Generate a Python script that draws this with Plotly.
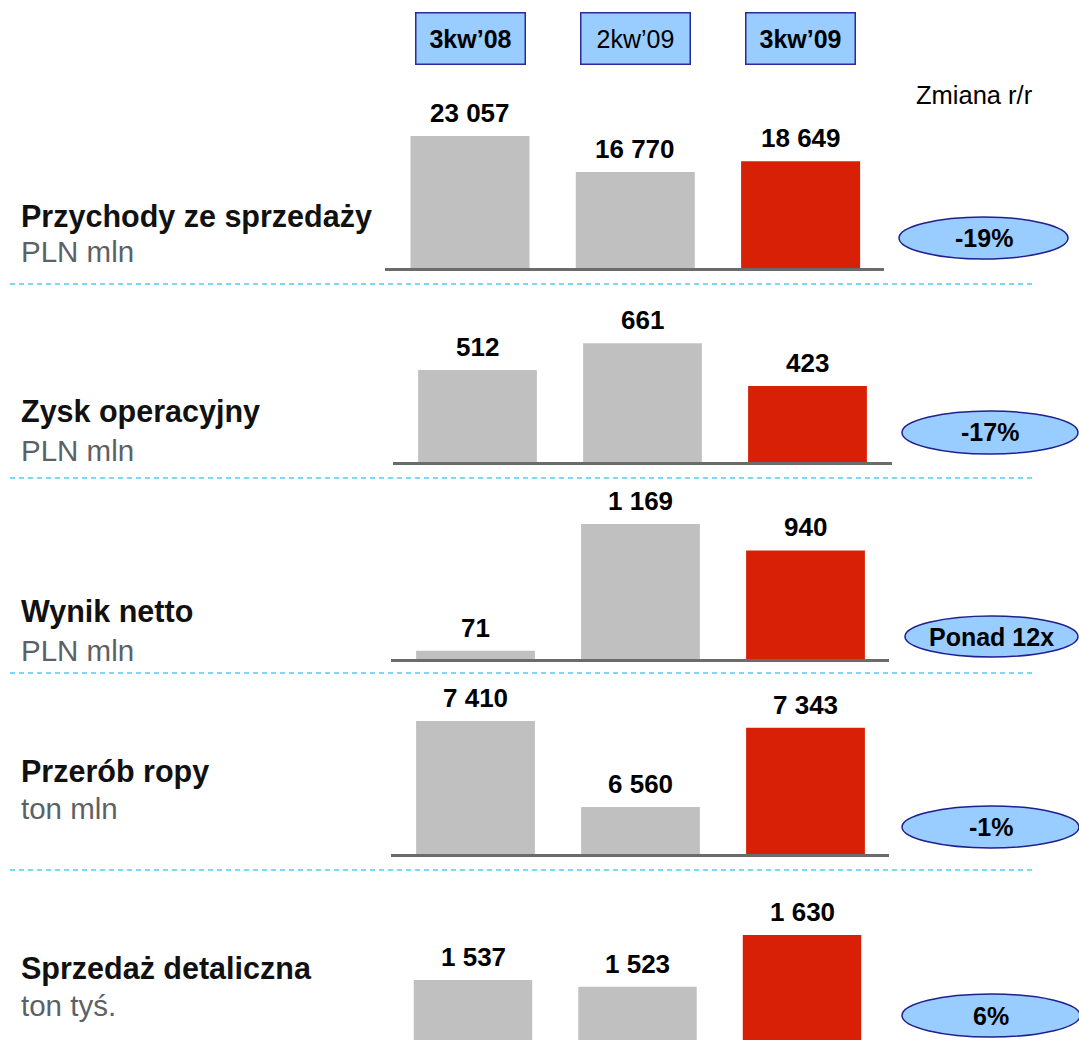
import plotly.graph_objects as go

# ---------------- data ----------------
categories = ["3kw’08", "2kw’09", "3kw’09"]
metrics = ["Przychody ze sprzedaży", "Zysk operacyjny", "Wynik netto",
           "Przerób ropy", "Sprzedaż detaliczna"]
units = ["PLN mln", "PLN mln", "PLN mln", "ton mln", "ton tyś."]
revenue = [23057, 16770, 18649]
operating_profit = [512, 661, 423]
net_result = [71, 1169, 940]
crude_throughput = [7410, 6560, 7343]
retail_sales = [1537, 1523, 1630]
yoy_change = ["-19%", "-17%", "Ponad 12x", "-1%", "6%"]
change_title = "Zmiana r/r"

series = [revenue, operating_profit, net_result, crude_throughput, retail_sales]

# ---------------- layout helpers ----------------
W, H = 1079, 1040
def fx(p):
    return p / W
def fy(p):
    return 1 - p / H

GRAY = "#c0c0c0"
RED = "#d82006"
BLUE_FILL = "#99ccff"
NAVY = "#1f1f8f"
FONT = "Liberation Sans, Arial, sans-serif"

# per panel: x line extent (px), first bar centre, spacing, baseline px, top px, axis base, units per px
panels = [
    dict(L=385, R=884, c0=470.0, sp=165.3, B=268, T=90, base=0, upp=174.7,
         ell=(899, 217, 1068, 259), title_y=216, unit_y=251, sep=284, line=True),
    dict(L=393, R=892, c0=477.5, sp=165.0, B=462, T=290, base=0, upp=5.565,
         ell=(902, 411, 1078, 454), title_y=412, unit_y=450, sep=478, line=True),
    dict(L=391, R=889, c0=475.5, sp=165.0, B=659, T=480, base=0, upp=8.66,
         ell=(905, 616, 1078, 657), title_y=611, unit_y=650, sep=673, line=True),
    dict(L=391, R=889, c0=475.5, sp=165.0, B=854, T=690, base=6096, upp=9.88,
         ell=(902, 806, 1079, 848), title_y=771, unit_y=808, sep=870, line=True),
    dict(L=388, R=886, c0=473.0, sp=164.5, B=1040, T=890, base=1413, upp=2.067,
         ell=(902, 994, 1080, 1037), title_y=968, unit_y=1005, sep=None, line=False),
]

fig = go.Figure()
annotations = []
shapes = []

bar_colors = [GRAY, GRAY, RED]

for i, (p, vals) in enumerate(zip(panels, series)):
    n = i + 1
    xa = "x" if n == 1 else f"x{n}"
    ya = "y" if n == 1 else f"y{n}"
    fig.add_trace(go.Bar(
        x=categories, y=vals, xaxis=xa, yaxis=ya,
        marker=dict(color=bar_colors, line=dict(width=0)),
        width=0.72, showlegend=False, hoverinfo="x+y",
    ))
    x0 = -(p["c0"] - p["L"]) / p["sp"]
    x1 = (p["R"] - p["c0"]) / p["sp"]
    y1 = p["base"] + (p["B"] - p["T"]) * p["upp"]
    xkey = "xaxis" if n == 1 else f"xaxis{n}"
    ykey = "yaxis" if n == 1 else f"yaxis{n}"
    fig.update_layout(**{
        xkey: dict(domain=[fx(p["L"]), fx(p["R"])], range=[x0, x1],
                   anchor=ya, type="category", showticklabels=False,
                   showgrid=False, zeroline=False, ticks="",
                   showline=p["line"], linecolor="#6b6b6b", linewidth=2.5,
                   fixedrange=True),
        ykey: dict(domain=[fy(p["B"]), fy(p["T"])], range=[p["base"], y1],
                   anchor=xa, showticklabels=False, showgrid=False,
                   zeroline=False, showline=False, ticks="", fixedrange=True),
    })
    # value labels
    for c, v in zip(categories, vals):
        annotations.append(dict(
            x=c, y=v, xref=xa, yref=ya, yanchor="bottom", yshift=6,
            text=f"{v:,}".replace(",", " "), showarrow=False,
            font=dict(family=FONT, size=26, color="black", weight="bold"),
        ))
    # left titles
    annotations.append(dict(
        x=fx(19), y=fy(p["title_y"]), xref="paper", yref="paper",
        xanchor="left", yanchor="middle", text=f"<b>{metrics[i]}</b>",
        showarrow=False, font=dict(family=FONT, size=30.5, color="#111111"),
    ))
    annotations.append(dict(
        x=fx(19), y=fy(p["unit_y"]), xref="paper", yref="paper",
        xanchor="left", yanchor="middle", text=units[i],
        showarrow=False, font=dict(family=FONT, size=29.5, color="#5c6264"),
    ))
    # ellipse with change
    ex0, ey0, ex1, ey1 = p["ell"]
    shapes.append(dict(
        type="circle", xref="paper", yref="paper",
        x0=fx(ex0), x1=fx(ex1), y0=fy(ey1), y1=fy(ey0),
        fillcolor=BLUE_FILL, line=dict(color=NAVY, width=1.5), layer="above",
    ))
    annotations.append(dict(
        x=fx((ex0 + ex1) / 2), y=fy((ey0 + ey1) / 2), xref="paper", yref="paper",
        xanchor="center", yanchor="middle", text=f"<b>{yoy_change[i]}</b>",
        showarrow=False, font=dict(family=FONT, size=25, color="black"),
    ))
    # dashed separator
    if p["sep"] is not None:
        shapes.append(dict(
            type="line", xref="paper", yref="paper",
            x0=fx(10), x1=fx(1033), y0=fy(p["sep"]), y1=fy(p["sep"]),
            line=dict(color="#4fcdf2", width=1.5, dash="5px,4px"),
        ))

# header boxes above columns
header_bold = [True, False, True]
for c, b in zip(categories, header_bold):
    annotations.append(dict(
        x=c, xref="x", y=fy(38.5), yref="paper", yanchor="middle",
        text=f"<b>{c}</b>" if b else c, showarrow=False,
        width=106, height=48, bgcolor=BLUE_FILL, bordercolor="#2a2a9a",
        borderwidth=1.5, borderpad=1,
        font=dict(family=FONT, size=25, color="black"),
    ))

annotations.append(dict(
    x=fx(974), y=fy(95), xref="paper", yref="paper",
    xanchor="center", yanchor="middle", text=change_title, showarrow=False,
    font=dict(family=FONT, size=25.5, color="black"),
))

fig.update_layout(
    width=W, height=H, margin=dict(l=0, r=0, t=0, b=0),
    paper_bgcolor="white", plot_bgcolor="rgba(0,0,0,0)",
    bargap=0.2, annotations=annotations, shapes=shapes,
    font=dict(family=FONT),
)

fig.write_html("out.html", config={"displayModeBar": False})
with open("out.html", "r", encoding="utf-8") as f:
    html = f.read()
html = html.replace("<head>", "<head><style>html,body{margin:0;padding:0;overflow:hidden}</style>", 1)
with open("out.html", "w", encoding="utf-8") as f:
    f.write(html)
